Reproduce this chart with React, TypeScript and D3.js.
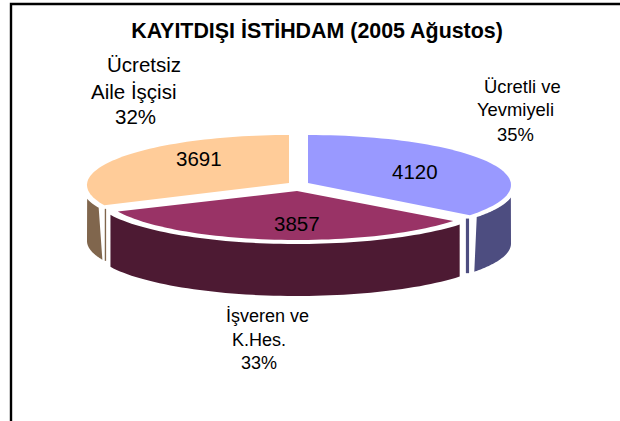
import React from "react";
import * as d3 from "d3";

const titleText = "KAYITDIŞI İSTİHDAM (2005 Ağustos)";
const categories = ["Ücretli ve Yevmiyeli", "İşveren ve K.Hes.", "Ücretsiz Aile İşçisi"];
const values = [4120, 3857, 3691];
const topColors = ["#9999FF", "#993366", "#FFCC99"];
const sideColors = ["#4D4D80", "#4D1A33", "#80664D"];
const FONT = '"Liberation Sans", Arial, sans-serif';

const rad = (deg: number) => (deg * Math.PI) / 180;
const line = d3.line<[number, number]>();

// point on a projected ellipse; angle is clockwise from 12 o'clock, like d3.pie
const pt = (cx: number, cy: number, rx: number, ry: number, a: number): [number, number] => [
  cx + rx * Math.sin(a),
  cy - ry * Math.cos(a),
];
const arcPts = (cx: number, cy: number, rx: number, ry: number, a0: number, a1: number) =>
  d3.range(0, 61).map((i) => pt(cx, cy, rx, ry, a0 + ((a1 - a0) * i) / 60));

const arcs = d3.pie<number>().sort(null)(values);

const geom = [
  {
    apex: [308, 183], top: { cx: 308, cy: 185, rx: 203, ry: 50 },
    wallTop: { cx: 308, cy: 189, rx: 206, ry: 49 }, wallBot: { cx: 308, cy: 243.6, rx: 203, ry: 49 },
    topRange: [rad(100), rad(125)], botRange: [rad(90), rad(125)], face: { end: 1, r: [198, 202] },
  },
  {
    apex: [297, 191], top: { cx: 297, cy: 192, rx: 196, ry: 48 },
    wallTop: { cx: 297, cy: 195, rx: 204, ry: 49 }, wallBot: { cx: 297, cy: 247, rx: 204, ry: 49 },
    topRange: [null, null], botRange: [null, null], face: null,
  },
  {
    apex: [289, 183], top: { cx: 289, cy: 185, rx: 202, ry: 50 },
    wallTop: { cx: 289, cy: 189, rx: 206, ry: 49 }, wallBot: { cx: 289, cy: 241, rx: 202, ry: 49 },
    topRange: [rad(247.5), rad(258.5)], botRange: [rad(247.5), rad(270)], face: { end: 0, r: [200, 201.5] },
  },
];

const labels = [
  { lines: ["Ücretli ve", "Yevmiyeli", "35%"], xs: [484, 477, 497], ys: [93, 116, 141], size: 18.4 },
  { lines: ["İşveren ve", "K.Hes.", "33%"], xs: [226, 232, 241], ys: [322, 346, 369], size: 18 },
  { lines: ["Ücretsiz", "Aile İşçisi", "32%"], xs: [107, 91, 115], ys: [72, 99, 124], size: 20.5 },
];
const valuePos = [[392, 179], [274, 231], [176, 166]];

export default function App() {
  return (
    <svg width={620} height={421} style={{ position: "fixed", left: 0, top: 0, background: "#fff" }}>
      <path d="M11 421V4H620" fill="none" stroke="#000" strokeWidth={2.4} />
      <text x={317} y={38} textAnchor="middle" fontFamily={FONT} fontWeight="bold" fontSize={21.4} fill="#000">
        {titleText}
      </text>
      {arcs.map((d, i) => {
        const g = geom[i];
        const t0 = g.topRange[0] ?? d.startAngle;
        const t1 = g.topRange[1] ?? d.endAngle;
        const b0 = g.botRange[0] ?? d.startAngle;
        const b1 = g.botRange[1] ?? d.endAngle;
        const tt = g.wallTop, bb = g.wallBot, tp = g.top;
        const wall = [
          ...arcPts(tt.cx, tt.cy, tt.rx, tt.ry, t0, t1),
          ...arcPts(bb.cx, bb.cy, bb.rx, bb.ry, b0, b1).reverse(),
        ];
        const face = g.face
          ? (() => {
              const a = g.face.end ? d.endAngle : d.startAngle;
              return [
                pt(tt.cx, tt.cy, g.face.r[0], tt.ry, a),
                pt(tt.cx, tt.cy, g.face.r[1], tt.ry, a),
                pt(bb.cx, bb.cy, g.face.r[1], bb.ry, a),
                pt(bb.cx, bb.cy, g.face.r[0], bb.ry, a),
              ] as [number, number][];
            })()
          : null;
        const topFace = [
          g.apex as [number, number],
          ...arcPts(tp.cx, tp.cy, tp.rx, tp.ry, d.startAngle, d.endAngle),
        ];
        return (
          <g key={categories[i]}>
            <path d={line(wall) + "Z"} fill={sideColors[i]} />
            {face && <path d={line(face) + "Z"} fill={sideColors[i]} />}
            <path d={line(topFace) + "Z"} fill={topColors[i]} />
          </g>
        );
      })}
      {values.map((v, i) => (
        <text key={v} x={valuePos[i][0]} y={valuePos[i][1]} fontFamily={FONT} fontSize={20.5} fill="#000">
          {v}
        </text>
      ))}
      {labels.map((l) =>
        l.lines.map((s, j) => (
          <text key={s} x={l.xs[j]} y={l.ys[j]} fontFamily={FONT} fontSize={l.size} fill="#000">
            {s}
          </text>
        ))
      )}
    </svg>
  );
}
